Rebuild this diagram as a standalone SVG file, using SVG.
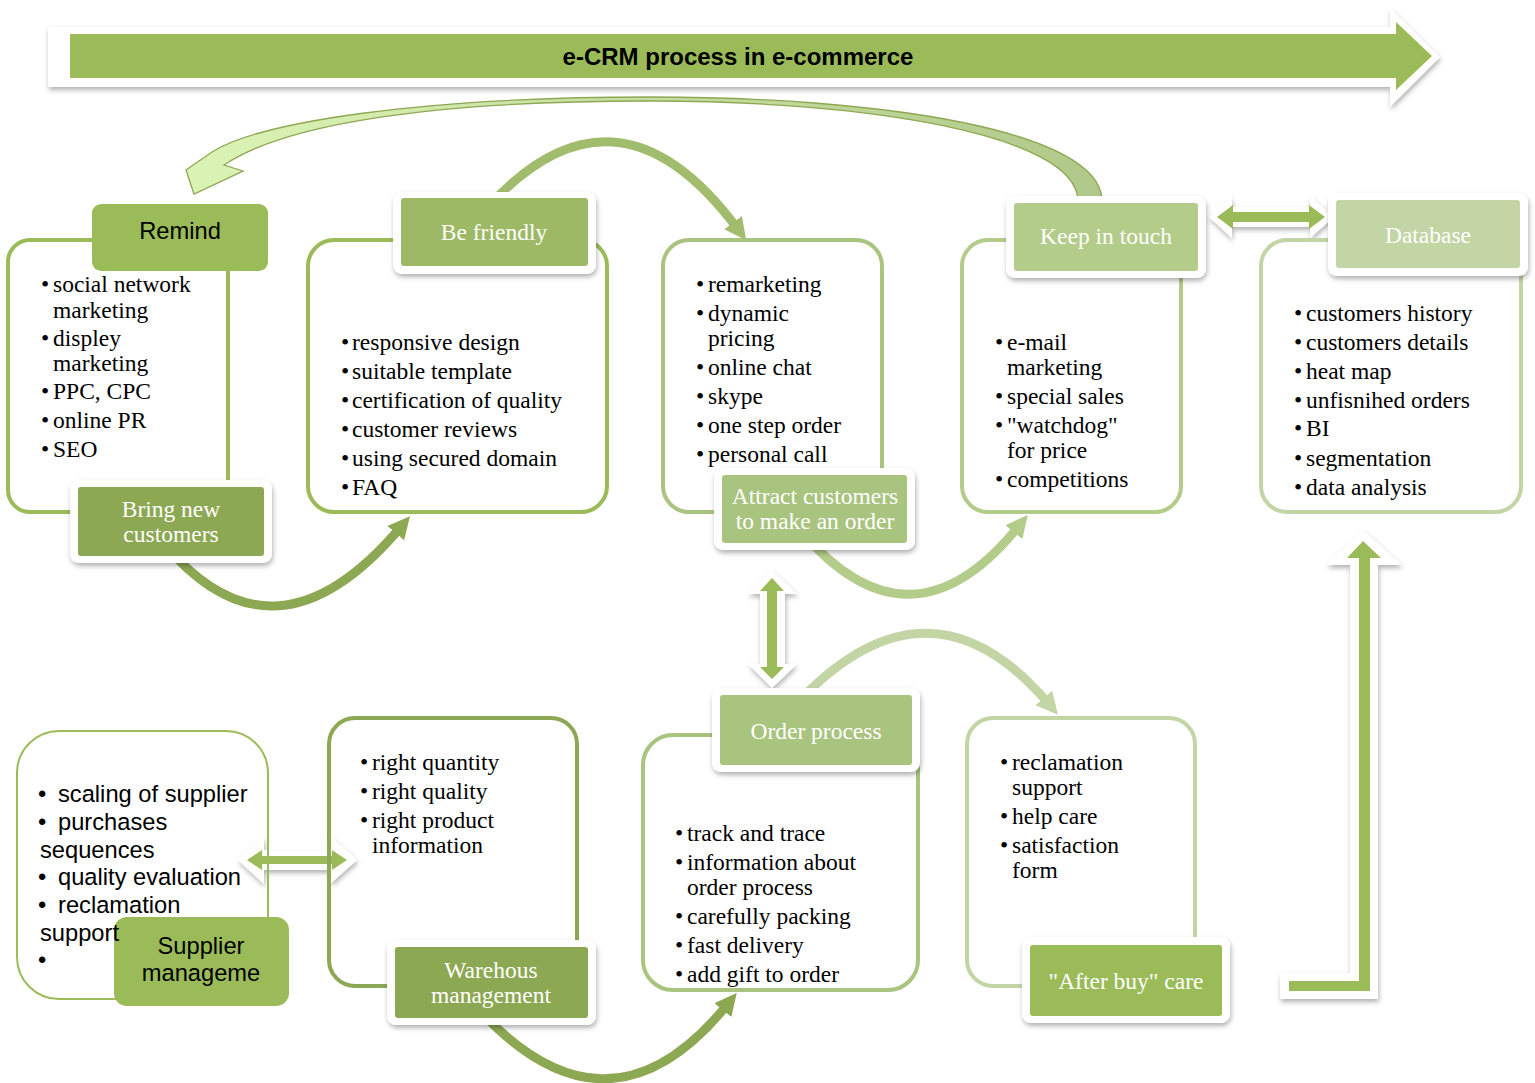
<svg xmlns="http://www.w3.org/2000/svg" width="1535" height="1083" viewBox="0 0 1535 1083">
<defs>
<style>
.box{fill:none;stroke-width:4}
.frame{fill:#fff;filter:url(#sh)}
.lbl{font-family:"Liberation Serif","Times New Roman",serif;font-size:23.5px;fill:#fff;text-anchor:middle}
.t{font-family:"Liberation Serif","Times New Roman",serif;font-size:23.5px;fill:#000}
.a{font-family:"Liberation Sans",Arial,sans-serif;font-size:23.7px;fill:#000}
.arc{fill:none;stroke-width:9}
.wo{fill:#fff;filter:url(#sh)}
.gi{fill:#9BBB59}
</style>
<filter id="sh" x="-20%" y="-20%" width="140%" height="150%">
<feDropShadow dx="1" dy="3" stdDeviation="2.5" flood-color="#000" flood-opacity="0.3"/>
</filter>
<linearGradient id="cg" x1="190" y1="0" x2="1100" y2="0" gradientUnits="userSpaceOnUse">
<stop offset="0" stop-color="#DCF3B6"/>
<stop offset="0.5" stop-color="#C8DEA0"/>
<stop offset="1" stop-color="#B0C98A"/>
</linearGradient>
<marker id="m1" viewBox="0 0 10 10" refX="3" refY="5" markerUnits="userSpaceOnUse" markerWidth="22" markerHeight="28" orient="auto"><path d="M0,0 L10,5 L0,10 z" fill="#8DA853"/></marker>
<marker id="m2" viewBox="0 0 10 10" refX="3" refY="5" markerUnits="userSpaceOnUse" markerWidth="22" markerHeight="28" orient="auto"><path d="M0,0 L10,5 L0,10 z" fill="#A0BC6C"/></marker>
<marker id="m3" viewBox="0 0 10 10" refX="3" refY="5" markerUnits="userSpaceOnUse" markerWidth="22" markerHeight="28" orient="auto"><path d="M0,0 L10,5 L0,10 z" fill="#B3CC8A"/></marker>
<marker id="m4" viewBox="0 0 10 10" refX="3" refY="5" markerUnits="userSpaceOnUse" markerWidth="22" markerHeight="28" orient="auto"><path d="M0,0 L10,5 L0,10 z" fill="#C3D5A5"/></marker>
</defs>
<rect width="1535" height="1083" fill="#fff"/>

<g id="title">
<polygon class="wo" points="48,27 1390,27 1390,8 1440,57 1390,107 1390,87 48,87"/>
<polygon class="gi" points="70,34 1396,34 1396,22 1432,56 1396,90 1396,78 70,78"/>
<text x="738" y="65" text-anchor="middle" style="font-family:'Liberation Sans',Arial,sans-serif;font-size:24px;font-weight:bold;fill:#000">e-CRM process in e-commerce</text>
</g>

<g id="connectors">
<path class="arc" stroke="#8DA853" d="M165,545 Q275,675 400,528" marker-end="url(#m1)"/>
<path class="arc" stroke="#A0BC6C" d="M485,210 Q615,65 737,228" marker-end="url(#m2)"/>
<path class="arc" stroke="#B3CC8A" d="M800,530 Q910,660 1018,527" marker-end="url(#m3)"/>
<path class="arc" stroke="#C3D5A5" d="M800,700 Q930,565 1048,703" marker-end="url(#m4)"/>
<path class="arc" stroke="#8DA853" d="M470,1000 Q605,1155 727,1005" marker-end="url(#m1)"/>
<path d="M1102,200 C1100,130 880,97 650,97 C420,97 260,122 212,152 L186,170 L194,194 L243,171 L224,165 C285,124 430,101 650,101 C870,101 1075,135 1078,200 Z" fill="url(#cg)" stroke="#8DA853" stroke-width="1.3"/>
<polygon class="wo" points="772,570 797,594 785,594 785,664 797,664 772,688 748,664 760,664 760,594 748,594"/>
<polygon class="gi" points="772,578 784,591 777,591 777,667 784,667 772,679 760,667 767,667 767,591 760,591"/>
<polygon class="wo" points="1209,217 1232,196 1232,207 1310,207 1310,196 1334,217 1310,238 1310,227 1232,227 1232,238"/>
<polygon class="gi" points="1217,217 1233,205 1233,212 1309,212 1309,205 1325,217 1309,229 1309,222 1233,222 1233,229"/>
<polygon class="wo" points="238,860 264,836 264,850 330,850 330,836 357,860 330,884 330,870 264,870 264,884"/>
<polygon class="gi" points="247,860 262,850 262,856 332,856 332,850 347,860 332,870 332,864 262,864 262,870"/>
<polygon class="wo" points="1280,973 1350,973 1350,565 1326,565 1363,530 1402,565 1378,565 1378,999 1280,999"/>
<polygon class="gi" points="1289,981 1359,981 1359,558 1347,558 1363,541 1381,558 1370,558 1370,991 1289,991"/>
</g>

<g id="remind">
<rect class="box" x="8" y="240" width="220" height="272" rx="22" stroke="#9BBB59"/>
<rect x="92" y="204" width="176" height="67" rx="9" fill="#9BBB59"/>
<text x="180" y="239" text-anchor="middle" class="a">Remind</text>
<text class="t" x="41" y="292">•</text><text class="t" x="53" y="292">social network</text>
<text class="t" x="53" y="318">marketing</text>
<text class="t" x="41" y="346">•</text><text class="t" x="53" y="346">displey</text>
<text class="t" x="53" y="371">marketing</text>
<text class="t" x="41" y="399">•</text><text class="t" x="53" y="399">PPC, CPC</text>
<text class="t" x="41" y="428">•</text><text class="t" x="53" y="428">online PR</text>
<text class="t" x="41" y="457">•</text><text class="t" x="53" y="457">SEO</text>
<rect class="frame" x="70" y="480" width="202" height="83" rx="9"/>
<rect x="78" y="487" width="186" height="69" rx="3" fill="#8DA853"/>
<text class="lbl" x="171" y="517">Bring new</text>
<text class="lbl" x="171" y="542">customers</text>
</g>

<g id="be-friendly">
<rect class="box" x="308" y="240" width="299" height="272" rx="26" stroke="#9BBB59"/>
<rect class="frame" x="393" y="192" width="203" height="82" rx="9"/>
<rect x="401" y="198" width="187" height="68" rx="3" fill="#9EB966"/>
<text class="lbl" x="494" y="240">Be friendly</text>
<text class="t" x="341" y="350">•</text><text class="t" x="352" y="350">responsive design</text>
<text class="t" x="341" y="379">•</text><text class="t" x="352" y="379">suitable template</text>
<text class="t" x="341" y="408">•</text><text class="t" x="352" y="408">certification of quality</text>
<text class="t" x="341" y="437">•</text><text class="t" x="352" y="437">customer reviews</text>
<text class="t" x="341" y="466">•</text><text class="t" x="352" y="466">using secured domain</text>
<text class="t" x="341" y="495">•</text><text class="t" x="352" y="495">FAQ</text>
</g>

<g id="attract">
<rect class="box" x="663" y="240" width="219" height="272" rx="26" stroke="#A9C47F"/>
<text class="t" x="696" y="292">•</text><text class="t" x="708" y="292">remarketing</text>
<text class="t" x="696" y="321">•</text><text class="t" x="708" y="321">dynamic</text>
<text class="t" x="708" y="346">pricing</text>
<text class="t" x="696" y="375">•</text><text class="t" x="708" y="375">online chat</text>
<text class="t" x="696" y="404">•</text><text class="t" x="708" y="404">skype</text>
<text class="t" x="696" y="433">•</text><text class="t" x="708" y="433">one step order</text>
<text class="t" x="696" y="462">•</text><text class="t" x="708" y="462">personal call</text>
<rect class="frame" x="714" y="468" width="201" height="82" rx="9"/>
<rect x="722" y="475" width="185" height="68" rx="3" fill="#A9C47F"/>
<text class="lbl" x="815" y="504">Attract customers</text>
<text class="lbl" x="815" y="529">to make an order</text>
</g>

<g id="keep-in-touch">
<rect class="box" x="962" y="240" width="219" height="272" rx="26" stroke="#B3CC8A"/>
<rect class="frame" x="1006" y="196" width="200" height="82" rx="9"/>
<rect x="1014" y="203" width="184" height="68" rx="3" fill="#B3CC8A"/>
<text class="lbl" x="1106" y="244">Keep in touch</text>
<text class="t" x="995" y="350">•</text><text class="t" x="1007" y="350">e-mail</text>
<text class="t" x="1007" y="375">marketing</text>
<text class="t" x="995" y="404">•</text><text class="t" x="1007" y="404">special sales</text>
<text class="t" x="995" y="433">•</text><text class="t" x="1007" y="433">"watchdog"</text>
<text class="t" x="1007" y="458">for price</text>
<text class="t" x="995" y="487">•</text><text class="t" x="1007" y="487">competitions</text>
</g>

<g id="database">
<rect class="box" x="1261" y="240" width="260" height="272" rx="26" stroke="#C3D5A5"/>
<rect class="frame" x="1328" y="193" width="200" height="83" rx="9"/>
<rect x="1336" y="200" width="184" height="68" rx="3" fill="#C3D5A5"/>
<text class="lbl" x="1428" y="243">Database</text>
<text class="t" x="1294" y="321">•</text><text class="t" x="1306" y="321">customers history</text>
<text class="t" x="1294" y="350">•</text><text class="t" x="1306" y="350">customers details</text>
<text class="t" x="1294" y="379">•</text><text class="t" x="1306" y="379">heat map</text>
<text class="t" x="1294" y="408">•</text><text class="t" x="1306" y="408">unfisnihed orders</text>
<text class="t" x="1294" y="436">•</text><text class="t" x="1306" y="436">BI</text>
<text class="t" x="1294" y="466">•</text><text class="t" x="1306" y="466">segmentation</text>
<text class="t" x="1294" y="495">•</text><text class="t" x="1306" y="495">data analysis</text>
</g>

<g id="supplier">
<rect x="17" y="731" width="251" height="268" rx="42" fill="none" stroke="#9BBB59" stroke-width="2"/>
<rect x="114" y="917" width="175" height="89" rx="13" fill="#9BBB59"/>
<text class="a" x="38" y="802">•</text><text class="a" x="58" y="802">scaling of supplier</text>
<text class="a" x="38" y="830">•</text><text class="a" x="58" y="830">purchases</text>
<text class="a" x="40" y="858">sequences</text>
<text class="a" x="38" y="885">•</text><text class="a" x="58" y="885">quality evaluation</text>
<text class="a" x="38" y="913">•</text><text class="a" x="58" y="913">reclamation</text>
<text class="a" x="40" y="941">support</text>
<text class="a" x="38" y="968">•</text>
<text class="a" x="201" y="954" text-anchor="middle">Supplier</text>
<text class="a" x="201" y="981" text-anchor="middle">manageme</text>
</g>

<g id="warehouse">
<rect class="box" x="329" y="718" width="248" height="268" rx="26" stroke="#8DA853"/>
<text class="t" x="360" y="770">•</text><text class="t" x="372" y="770">right quantity</text>
<text class="t" x="360" y="799">•</text><text class="t" x="372" y="799">right quality</text>
<text class="t" x="360" y="828">•</text><text class="t" x="372" y="828">right product</text>
<text class="t" x="372" y="853">information</text>
<rect class="frame" x="387" y="940" width="209" height="85" rx="9"/>
<rect x="395" y="947" width="193" height="71" rx="3" fill="#8DA853"/>
<text class="lbl" x="491" y="978">Warehous</text>
<text class="lbl" x="491" y="1003">management</text>
</g>

<g id="order-process">
<rect class="box" x="643" y="735" width="275" height="255" rx="30" stroke="#A9C47F"/>
<rect class="frame" x="712" y="688" width="208" height="84" rx="9"/>
<rect x="720" y="695" width="192" height="70" rx="3" fill="#A9C47F"/>
<text class="lbl" x="816" y="739">Order process</text>
<text class="t" x="675" y="841">•</text><text class="t" x="687" y="841">track and trace</text>
<text class="t" x="675" y="870">•</text><text class="t" x="687" y="870">information about</text>
<text class="t" x="687" y="895">order process</text>
<text class="t" x="675" y="924">•</text><text class="t" x="687" y="924">carefully packing</text>
<text class="t" x="675" y="953">•</text><text class="t" x="687" y="953">fast delivery</text>
<text class="t" x="675" y="982">•</text><text class="t" x="687" y="982">add gift to order</text>
</g>

<g id="after-buy">
<rect class="box" x="967" y="718" width="228" height="268" rx="26" stroke="#C3D5A5"/>
<text class="t" x="1000" y="770">•</text><text class="t" x="1012" y="770">reclamation</text>
<text class="t" x="1012" y="795">support</text>
<text class="t" x="1000" y="824">•</text><text class="t" x="1012" y="824">help care</text>
<text class="t" x="1000" y="853">•</text><text class="t" x="1012" y="853">satisfaction</text>
<text class="t" x="1012" y="878">form</text>
<rect class="frame" x="1022" y="937" width="208" height="86" rx="9"/>
<rect x="1030" y="945" width="192" height="71" rx="3" fill="#9BBB59"/>
<text class="lbl" x="1126" y="989">"After buy" care</text>
</g>
</svg>
